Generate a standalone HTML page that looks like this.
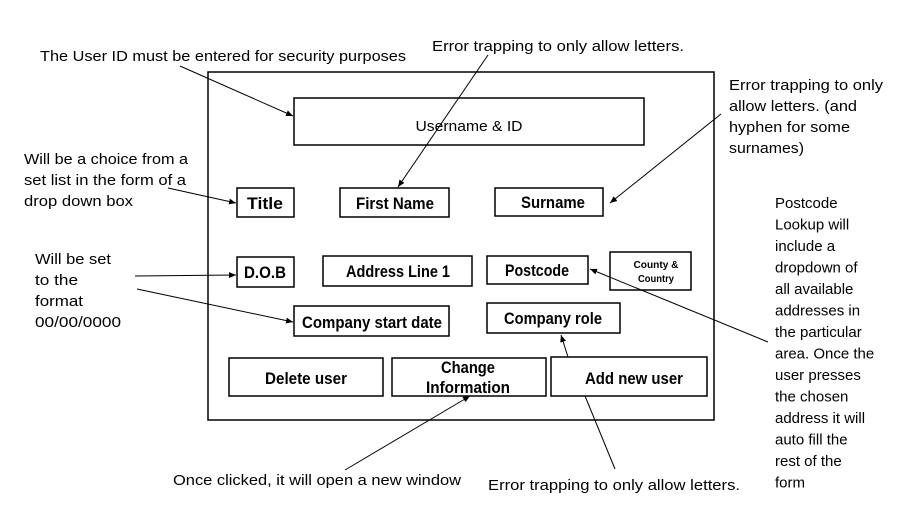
<!DOCTYPE html>
<html><head><meta charset="utf-8"><style>
html,body{margin:0;padding:0;background:#fff;}
svg{display:block;}
text{font-family:"Liberation Sans",sans-serif;fill:#000;}
.a{font-size:15px;}
.b{font-size:16.5px;font-weight:bold;}
</style></head><body>
<svg width="900" height="507" viewBox="0 0 900 507" xmlns="http://www.w3.org/2000/svg">
<defs><marker id="m" markerWidth="8" markerHeight="8" refX="7" refY="4" orient="auto" markerUnits="userSpaceOnUse"><path d="M0,1 L7,4 L0,7 z" fill="#000"/></marker></defs>
<g fill="none" stroke="#000" stroke-width="1.5">
<rect x="208" y="72" width="506" height="348"/>
<rect x="294" y="98" width="350" height="47"/>
<rect x="237" y="188" width="57" height="29"/>
<rect x="340" y="188" width="109" height="29"/>
<rect x="495" y="188" width="108" height="28"/>
<rect x="237" y="257" width="57" height="30"/>
<rect x="323" y="256" width="149" height="30"/>
<rect x="487" y="256" width="101" height="28"/>
<rect x="610" y="252" width="81" height="38"/>
<rect x="294" y="306" width="155" height="30"/>
<rect x="487" y="303" width="133" height="30"/>
<rect x="229" y="358" width="154" height="38"/>
<rect x="392" y="358" width="154" height="38"/>
<rect x="551" y="357" width="156" height="39"/>
</g>
<g stroke="#000" stroke-width="1" marker-end="url(#m)">
<line x1="180" y1="66" x2="293" y2="116"/>
<line x1="488" y1="55" x2="398" y2="187"/>
<line x1="721" y1="114" x2="610" y2="203"/>
<line x1="168" y1="188" x2="236" y2="203"/>
<line x1="135" y1="276" x2="236" y2="275"/>
<line x1="137" y1="289" x2="293" y2="322"/>
<line x1="768" y1="342" x2="590" y2="269"/>
<line x1="568" y1="357" x2="561" y2="335"/>
<line x1="345" y1="470" x2="470" y2="396"/>
</g>
<line x1="615" y1="469" x2="585" y2="396" stroke="#000" stroke-width="1"/>
<g class="b" text-anchor="middle">
<text x="265" y="209" textLength="36" lengthAdjust="spacingAndGlyphs">Title</text>
<text x="395" y="209" textLength="78" lengthAdjust="spacingAndGlyphs">First Name</text>
<text x="553" y="208" textLength="64" lengthAdjust="spacingAndGlyphs">Surname</text>
<text x="265" y="278" textLength="42" lengthAdjust="spacingAndGlyphs">D.O.B</text>
<text x="398" y="277" textLength="104" lengthAdjust="spacingAndGlyphs">Address Line 1</text>
<text x="537" y="276" textLength="64" lengthAdjust="spacingAndGlyphs">Postcode</text>
<text x="372" y="328" textLength="140" lengthAdjust="spacingAndGlyphs">Company start date</text>
<text x="553" y="324" textLength="98" lengthAdjust="spacingAndGlyphs">Company role</text>
<text x="306" y="384" textLength="82" lengthAdjust="spacingAndGlyphs">Delete user</text>
<text x="468" y="373" textLength="54" lengthAdjust="spacingAndGlyphs">Change</text>
<text x="468" y="393" textLength="84" lengthAdjust="spacingAndGlyphs">Information</text>
<text x="634" y="384" textLength="98" lengthAdjust="spacingAndGlyphs">Add new user</text>
<text x="656" y="268" style="font-size:10px" textLength="45" lengthAdjust="spacingAndGlyphs">County &amp;</text>
<text x="656" y="282" style="font-size:10px" textLength="36" lengthAdjust="spacingAndGlyphs">Country</text>
</g>
<text class="a" x="469" y="131" text-anchor="middle" textLength="107" lengthAdjust="spacingAndGlyphs">Username &amp; ID</text>
<g class="a">
<text x="40" y="61" textLength="366" lengthAdjust="spacingAndGlyphs">The User  ID must be entered for security purposes</text>
<text x="432" y="51" textLength="252" lengthAdjust="spacingAndGlyphs">Error trapping to only allow letters.</text>
<text x="729" y="90" textLength="154" lengthAdjust="spacingAndGlyphs">Error trapping to only</text>
<text x="729" y="111" textLength="128" lengthAdjust="spacingAndGlyphs">allow letters. (and</text>
<text x="729" y="132" textLength="121" lengthAdjust="spacingAndGlyphs">hyphen for some</text>
<text x="729" y="153" textLength="75" lengthAdjust="spacingAndGlyphs">surnames)</text>
<text x="24" y="164" textLength="164" lengthAdjust="spacingAndGlyphs">Will be a choice from a</text>
<text x="24" y="185" textLength="162" lengthAdjust="spacingAndGlyphs">set list in the form of a</text>
<text x="24" y="206" textLength="109" lengthAdjust="spacingAndGlyphs">drop down box</text>
<text x="35" y="264" textLength="76" lengthAdjust="spacingAndGlyphs">Will be set</text>
<text x="35" y="285" textLength="43" lengthAdjust="spacingAndGlyphs">to the</text>
<text x="35" y="306" textLength="48" lengthAdjust="spacingAndGlyphs">format</text>
<text x="35" y="327" textLength="86" lengthAdjust="spacingAndGlyphs">00/00/0000</text>
<text x="173" y="485" textLength="288" lengthAdjust="spacingAndGlyphs">Once clicked, it will open a new window</text>
<text x="488" y="490" textLength="252" lengthAdjust="spacingAndGlyphs">Error trapping to only allow letters.</text>
</g>
<g class="a">
<text x="775" y="208">Postcode</text>
<text x="775" y="229.5">Lookup will</text>
<text x="775" y="251">include a</text>
<text x="775" y="272.5">dropdown of</text>
<text x="775" y="294">all available</text>
<text x="775" y="315.5">addresses in</text>
<text x="775" y="337">the particular</text>
<text x="775" y="358.5">area. Once the</text>
<text x="775" y="380">user presses</text>
<text x="775" y="401.5">the chosen</text>
<text x="775" y="423">address it will</text>
<text x="775" y="444.5">auto fill the</text>
<text x="775" y="466">rest of the</text>
<text x="775" y="487.5">form</text>
</g>
</svg>
</body></html>
